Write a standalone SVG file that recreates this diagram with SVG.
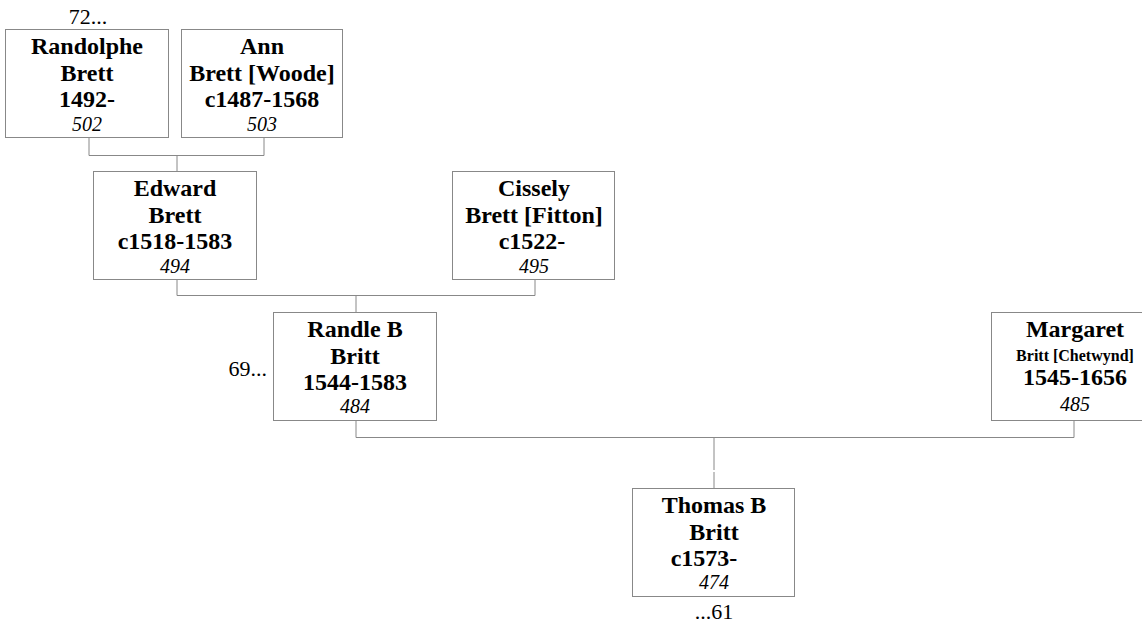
<svg xmlns="http://www.w3.org/2000/svg" width="1142" height="628" viewBox="0 0 1142 628">
<style>
.box{fill:#fff;stroke:#888;stroke-width:1}
.n{font-family:"Liberation Serif","Times New Roman",serif;font-weight:bold;font-size:24px;text-anchor:middle;fill:#000}
.s{font-size:16px}
.id{font-family:"Liberation Serif","Times New Roman",serif;font-style:italic;font-size:20px;text-anchor:middle;fill:#000}
.ref{font-family:"Liberation Serif","Times New Roman",serif;font-size:22px;fill:#000}
.c{fill:none;stroke:#888;stroke-width:1}
</style>
<rect width="1142" height="628" fill="#fff"/>
<g id="connectors">
<path class="c" d="M89,138 V155.5 H264 V138 M177,155.5 V171"/>
<path class="c" d="M177,280 V295.5 H535 V280 M356,295.5 V312"/>
<path class="c" d="M356,421 V437.5 H1074 V421 M714,437.5 V470 M714,472 V488"/>
</g>
<g id="n502">
<rect class="box" x="5.5" y="29.5" width="163" height="108"/>
<text class="n" x="87" y="54">Randolphe</text>
<text class="n" x="87" y="80.5">Brett</text>
<text class="n" x="87" y="107">1492-</text>
<text class="id" x="87" y="130.5">502</text>
</g>
<g id="n503">
<rect class="box" x="181.5" y="29.5" width="161" height="108"/>
<text class="n" x="262" y="54">Ann</text>
<text class="n" x="262" y="80.5">Brett [Woode]</text>
<text class="n" x="262" y="107">c1487-1568</text>
<text class="id" x="262" y="130.5">503</text>
</g>
<g id="n494">
<rect class="box" x="93.5" y="171.5" width="163" height="108"/>
<text class="n" x="175" y="196">Edward</text>
<text class="n" x="175" y="222.5">Brett</text>
<text class="n" x="175" y="249">c1518-1583</text>
<text class="id" x="175" y="272.5">494</text>
</g>
<g id="n495">
<rect class="box" x="452.5" y="171.5" width="162" height="108"/>
<text class="n" x="534" y="196">Cissely</text>
<text class="n" x="534" y="222.5">Brett [Fitton]</text>
<text class="n" x="532" y="249">c1522-</text>
<text class="id" x="534" y="272.5">495</text>
</g>
<g id="n484">
<rect class="box" x="273.5" y="312.5" width="163" height="108"/>
<text class="n" x="355" y="337">Randle B</text>
<text class="n" x="355" y="363.5">Britt</text>
<text class="n" x="355" y="390">1544-1583</text>
<text class="id" x="355" y="412.5">484</text>
</g>
<g id="n485">
<rect class="box" x="991.5" y="312.5" width="170" height="108"/>
<text class="n" x="1075" y="337">Margaret</text>
<text class="n s" x="1075" y="360.5">Britt [Chetwynd]</text>
<text class="n" x="1075" y="385">1545-1656</text>
<text class="id" x="1075" y="410.5">485</text>
</g>
<g id="n474">
<rect class="box" x="632.5" y="488.5" width="162" height="108"/>
<text class="n" x="714" y="513">Thomas B</text>
<text class="n" x="714" y="539.5">Britt</text>
<text class="n" x="704" y="566">c1573-</text>
<text class="id" x="714" y="588.5">474</text>
</g>
<g id="refs">
<text class="ref" x="88" y="24" text-anchor="middle">72...</text>
<text class="ref" x="267" y="376" text-anchor="end">69...</text>
<text class="ref" x="714" y="619" text-anchor="middle">...61</text>
</g>
</svg>
